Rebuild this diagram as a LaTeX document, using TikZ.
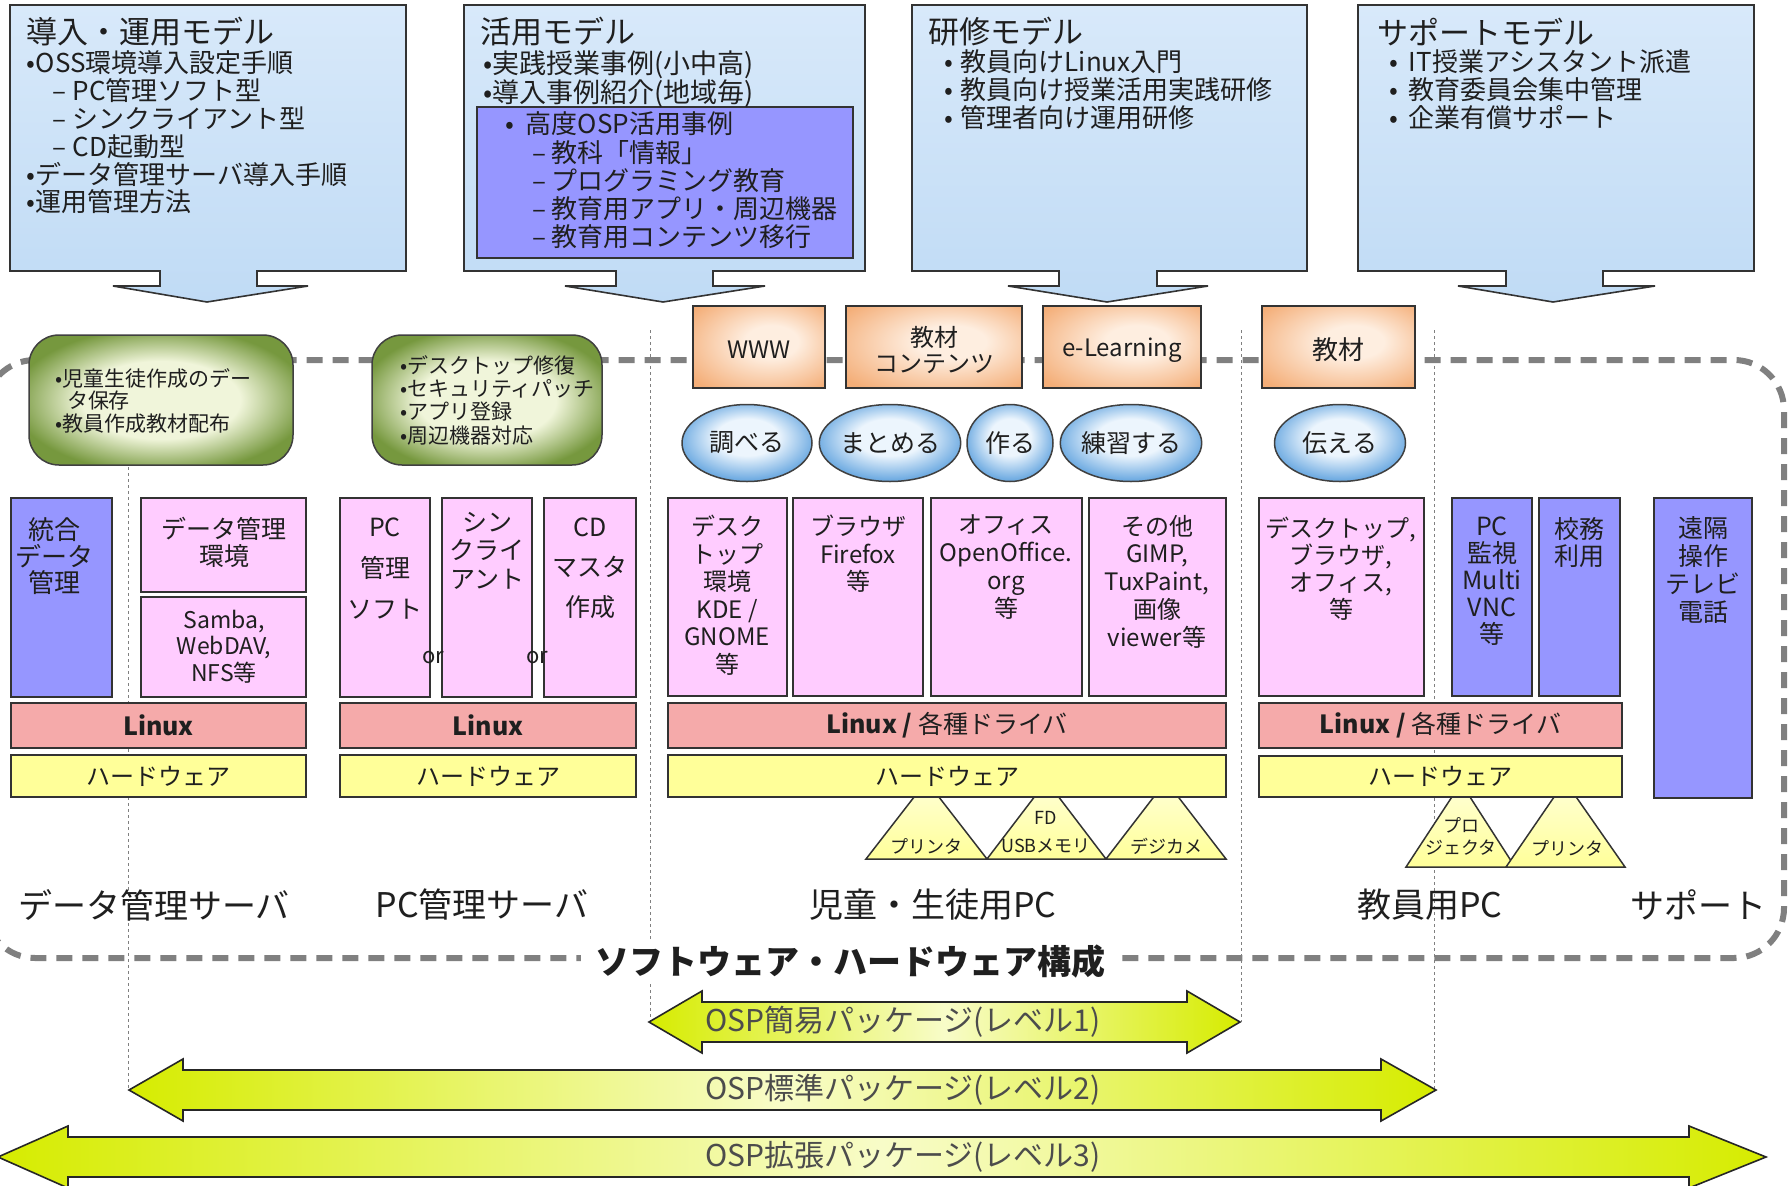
\documentclass[tikz,border=0pt]{standalone}
\usepackage{fontspec}
\setmainfont{Noto Sans CJK JP}
\usetikzlibrary{shapes.geometric}
\newcommand{\setfs}[2]{\fontsize{#1}{#2}\selectfont}
\definecolor{cloudA}{RGB}{216,233,250}
\definecolor{cloudB}{RGB}{192,219,245}
\definecolor{purp}{RGB}{150,150,255}
\definecolor{pinkb}{RGB}{255,204,255}
\definecolor{linuxc}{RGB}{245,170,170}
\definecolor{hwc}{RGB}{255,255,153}
\definecolor{hwl}{RGB}{255,255,215}
\definecolor{gD}{RGB}{118,152,62}
\definecolor{gL}{RGB}{240,245,218}
\definecolor{pA}{RGB}{254,238,224}
\definecolor{pB}{RGB}{244,174,120}
\definecolor{bubA}{RGB}{236,245,253}
\definecolor{bubB}{RGB}{112,172,226}
\definecolor{lvlD}{RGB}{214,236,0}
\definecolor{lvlL}{RGB}{248,252,200}
\definecolor{dashg}{RGB}{128,128,128}
\pgfdeclareradialshading{greenish}{\pgfpoint{0bp}{0bp}}{color(0bp)=(gL); color(15bp)=(gL); color(28bp)=(gD); color(50bp)=(gD)}
\pgfdeclareradialshading{peach}{\pgfpoint{6bp}{4bp}}{color(0bp)=(pA); color(10bp)=(pA); color(34bp)=(pB); color(50bp)=(pB)}
\pgfdeclareradialshading{bubble}{\pgfpoint{0bp}{5bp}}{color(0bp)=(bubA); color(12bp)=(bubA); color(26bp)=(bubB); color(50bp)=(bubB)}
\tikzset{
  cloudbox/.style={draw=black!80, line width=1.6, top color=cloudA, bottom color=cloudB},
  hibox/.style={draw=black!80, line width=1.6, fill=purp},
  gbox/.style={draw=black!75, line width=1.5, rounded corners=30, shade, shading=greenish},
  obox/.style={draw=black!80, line width=1.8, shade, shading=peach},
  bub/.style={ellipse, draw=black!75, line width=1.5, shade, shading=bubble, font=\setfs{25}{25}},
  pbox/.style={draw=black!80, line width=1.8, fill=pinkb},
  bbox/.style={draw=black!80, line width=1.8, fill=purp},
  lbox/.style={draw=black!80, line width=1.8, fill=linuxc},
  hbox/.style={draw=black!80, line width=1.8, fill=hwc},
  tri/.style={draw=black!80, line width=1.5, top color=hwl, bottom color=hwc},
  lvl/.style={draw=black!85, line width=1.6, left color=lvlD, right color=lvlD, middle color=lvlL},
  sepline/.style={draw=black!50, line width=1, dash pattern=on 3 off 3},
  frame/.style={draw=dashg, line width=6, dash pattern=on 16 off 10, rounded corners=50},
  bt/.style={anchor=north, align=center},
  lt/.style={anchor=north west, align=left},
  seclabel/.style={font=\setfs{34}{34}},
  pkglabel/.style={font=\setfs{30}{30}, text=black!70},
}
\newcommand{\rbox}[6]{\node[#6, anchor=north west, minimum width={#4-#2}, minimum height={#5-#3}] (#1) at (#2,#3) {};}
\newcommand{\modelbox}[7]{\draw[cloudbox] (#1,5) -- (#2,5) -- (#2,271) -- (#4,271) -- (#4,286) -- (#6,286) -- (#7,302) -- (#5,286) -- (#3,286) -- (#3,271) -- (#1,271) -- cycle;}
\newcommand{\lvlarrow}[5]{\draw[lvl] (#1,#5) -- (#2,{#5-31}) -- (#2,{#5-20}) -- (#3,{#5-20}) -- (#3,{#5-31}) -- (#4,#5) -- (#3,{#5+31}) -- (#3,{#5+20}) -- (#2,{#5+20}) -- (#2,{#5+31}) -- cycle;}
\begin{document}
\begin{tikzpicture}[x=1pt,y=-1pt, every node/.style={inner sep=0pt,outer sep=0pt,text=black!88}]
\useasboundingbox (0,0) rectangle (1789,1186);
\fill[white] (0,0) rectangle (1789,1186);
% separators
\draw[sepline] (128,335) -- (128,1088);
\draw[sepline] (650,330) -- (650,1022);
\draw[sepline] (1241,330) -- (1241,1022);
\draw[sepline] (1434,330) -- (1434,1088);
% dashed frame
\draw[frame] (-15,360) rectangle (1784,958);
% model boxes
\modelbox{10}{406}{160}{257}{113}{308}{207}
\modelbox{464}{865}{616}{713}{565}{765}{663}
\modelbox{912}{1307}{1059}{1157}{1008}{1208}{1107}
\modelbox{1358}{1754}{1506}{1603}{1458}{1655}{1553}
\rbox{hi}{477}{107}{853}{258}{hibox}
\node[anchor=west, font=\setfs{31}{31}] (m1) at (27,32) {導入・運用モデル};
\node[lt, font=\setfs{26}{27.8}] (m1b) at (27,51) {•OSS環境導入設定手順\\\hspace*{26pt}– PC管理ソフト型\\\hspace*{26pt}– シンクライアント型\\\hspace*{26pt}– CD起動型\\•データ管理サーバ導入手順\\•運用管理方法};
\node[anchor=west, font=\setfs{31}{31}] (m2) at (480,32) {活用モデル};
\node[lt, font=\setfs{27}{28}] (m2b) at (483,50.5) {•実践授業事例(小中高)\\•導入事例紹介(地域毎)};
\node[lt, font=\setfs{26}{28.25}] (m2c) at (505,112) {•\hspace{12pt}高度OSP活用事例\\\hspace*{27pt}– 教科「情報」\\\hspace*{27pt}– プログラミング教育\\\hspace*{27pt}– 教育用アプリ・周辺機器\\\hspace*{27pt}– 教育用コンテンツ移行};
\node[anchor=west, font=\setfs{31}{31}] (m3) at (928,32) {研修モデル};
\node[lt, font=\setfs{26}{28}] (m3b) at (944,50) {•\hspace{8pt}教員向けLinux入門\\•\hspace{8pt}教員向け授業活用実践研修\\•\hspace{8pt}管理者向け運用研修};
\node[anchor=west, font=\setfs{31}{31}] (m4) at (1377,32) {サポートモデル};
\node[lt, font=\setfs{26}{28}] (m4b) at (1389,50) {•\hspace{11pt}IT授業アシスタント派遣\\•\hspace{11pt}教育委員会集中管理\\•\hspace{11pt}企業有償サポート};
% green boxes
\rbox{g1}{29}{335}{293}{465}{gbox}
\rbox{g2}{372}{335}{602}{465}{gbox}
\node[lt, font=\setfs{21}{22.5}] (g1t) at (55,368.5) {•児童生徒作成のデー\\\hspace*{12pt}タ保存\\•教員作成教材配布};
\node[lt, font=\setfs{21}{23.3}] (g2t) at (400,355.5) {•デスクトップ修復\\•セキュリティパッチ\\•アプリ登録\\•周辺機器対応};
% orange boxes
\rbox{www}{693}{306}{825}{388}{obox}
\rbox{kz}{846}{306}{1022}{388}{obox}
\rbox{el}{1043}{306}{1201}{388}{obox}
\rbox{kz2}{1262}{306}{1415}{388}{obox}
\node[font=\setfs{24}{24}] (wwwt) at (759,350) {WWW};
\node[align=center, font=\setfs{24}{26}] (kzt) at (934,350) {教材\\コンテンツ};
\node[font=\setfs{24}{24}] (elt) at (1122,350) {e-Learning};
\node[font=\setfs{26}{26}] (kz2t) at (1338,350) {教材};
% ellipses
\node[bub, minimum width=130, minimum height=77] (e1) at (747,443) {調べる};
\node[bub, minimum width=131, minimum height=77] (e2) at (890,443) {まとめる};
\node[bub, minimum width=86, minimum height=77] (e3) at (1010,443) {作る};
\node[bub, minimum width=134, minimum height=77] (e4) at (1131,443) {練習する};
\node[bub, minimum width=131, minimum height=77] (e5) at (1340,443) {伝える};
% data server
\rbox{togo}{11}{498}{112}{697}{bbox}
\rbox{dk}{141}{498}{306}{592}{pbox}
\rbox{samba}{141}{597}{306}{697}{pbox}
\rbox{lx1}{11}{703}{306}{748}{lbox}
\rbox{hw1}{11}{755}{306}{797}{hbox}
\node[bt, font=\setfs{26}{26.5}] (togot) at (55,518) {統合\\データ\\管理};
\node[bt, font=\setfs{25}{27}] (dkt) at (224,517) {データ管理\\環境};
\node[bt, font=\setfs{23}{26.5}] (sambat) at (224,610) {Samba,\\WebDAV,\\NFS等};
% pc server
\rbox{pcs}{340}{498}{430}{697}{pbox}
\rbox{thin}{442}{498}{532}{697}{pbox}
\rbox{cd}{544}{498}{636}{697}{pbox}
\rbox{lx2}{340}{703}{636}{748}{lbox}
\rbox{hw2}{340}{755}{636}{797}{hbox}
\node[bt, font=\setfs{25}{41}] (pcst) at (385,518) {PC\\管理\\ソフト};
\node[bt, font=\setfs{25}{28.5}] (thint) at (487,512) {シン\\クライ\\アント};
\node[bt, font=\setfs{25}{40}] (cdt) at (590,518) {CD\\マスタ\\作成};
\node[font=\setfs{22}{22}] (or1) at (433,658) {or};
\node[font=\setfs{22}{22}] (or2) at (537,658) {or};
% student pc
\draw[tri] (866,859) -- (926.5,781) -- (987,859) -- cycle;
\draw[tri] (987,859) -- (1046.5,781) -- (1106,859) -- cycle;
\draw[tri] (1106,859) -- (1166,781) -- (1226,859) -- cycle;
\rbox{desk}{668}{498}{787}{696}{pbox}
\rbox{brow}{793}{498}{923}{696}{pbox}
\rbox{off}{931}{498}{1082}{696}{pbox}
\rbox{oth}{1089}{498}{1226}{696}{pbox}
\rbox{lx3}{668}{703}{1226}{748}{lbox}
\rbox{hw3}{668}{755}{1226}{797}{hbox}
\node[bt, font=\setfs{24}{27.6}] (deskt) at (727,515) {デスク\\トップ\\環境\\KDE /\\GNOME\\等};
\node[bt, font=\setfs{24}{27.5}] (browt) at (858,515) {ブラウザ\\Firefox\\等};
\node[bt, font=\setfs{24}{28}] (offt) at (1006,515) {オフィス\\OpenOffice.\\org\\等};
\node[bt, font=\setfs{24}{27.8}] (otht) at (1157,515) {その他\\GIMP,\\TuxPaint,\\画像\\viewer等};
\node[font=\setfs{18}{18}] (tr1) at (926,846) {プリンタ};
\node[font=\setfs{18}{18}] (tr2a) at (1046,818) {FD};
\node[font=\setfs{18}{18}] (tr2b) at (1046,846) {USBメモリ};
\node[font=\setfs{18}{18}] (tr3) at (1166,846) {デジカメ};
% teacher pc
\draw[tri] (1406,867) -- (1461,783) -- (1515,867) -- cycle;
\draw[tri] (1506,867) -- (1565,781) -- (1625,867) -- cycle;
\rbox{td}{1259}{498}{1424}{696}{pbox}
\rbox{kan}{1452}{498}{1532}{696}{bbox}
\rbox{komu}{1539}{498}{1620}{696}{bbox}
\rbox{enk}{1654}{498}{1752}{798}{bbox}
\rbox{lx4}{1259}{703}{1622}{748}{lbox}
\rbox{hw4}{1259}{756}{1622}{797}{hbox}
\node[bt, font=\setfs{24}{27}] (tdt) at (1341,517) {デスクトップ,\\ブラウザ,\\オフィス,\\等};
\node[bt, font=\setfs{25}{27}] (kant) at (1492,517) {PC\\監視\\Multi\\VNC\\等};
\node[bt, font=\setfs{25}{27}] (komut) at (1579,517) {校務\\利用};
\node[bt, font=\setfs{25}{27.7}] (enkt) at (1703,517) {遠隔\\操作\\テレビ\\電話};
\node[font=\setfs{18}{18}] (tr4a) at (1461,825) {プロ};
\node[font=\setfs{18}{18}] (tr4b) at (1461,848) {ジェクタ};
\node[font=\setfs{18}{18}] (tr5) at (1567,848) {プリンタ};
% bar labels
\node[font=\setfs{25}{25}\bfseries] (lx1t) at (lx1) {Linux};
\node[font=\setfs{25}{25}\bfseries] (lx2t) at (lx2) {Linux};
\node[font=\setfs{25}{25}] (lx3t) at (lx3) {\textbf{Linux /} 各種ドライバ};
\node[font=\setfs{25}{25}] (lx4t) at (lx4) {\textbf{Linux /} 各種ドライバ};
\node[font=\setfs{24}{24}] (hw1t) at (hw1) {ハードウェア};
\node[font=\setfs{24}{24}] (hw2t) at (hw2) {ハードウェア};
\node[font=\setfs{24}{24}] (hw3t) at (hw3) {ハードウェア};
\node[font=\setfs{24}{24}] (hw4t) at (hw4) {ハードウェア};
% section labels
\node[seclabel] (s1) at (154,905) {データ管理サーバ};
\node[seclabel] (s2) at (482,905) {PC管理サーバ};
\node[seclabel] (s3) at (933,905) {児童・生徒用PC};
\node[seclabel] (s4) at (1430,905) {教員用PC};
\node[seclabel] (s5) at (1698,905) {サポート};
\node[fill=white, inner xsep=14, inner ysep=4, font=\setfs{34}{34}\bfseries] (swhw) at (850,962) {ソフトウェア・ハードウェア構成};
% package arrows
\lvlarrow{649}{702}{1187}{1240}{1022}
\lvlarrow{129}{183}{1381}{1436}{1090}
\lvlarrow{-2}{68}{1689}{1766}{1157}
\node[pkglabel] (p1) at (903,1022) {OSP簡易パッケージ(レベル1)};
\node[pkglabel] (p2) at (903,1090) {OSP標準パッケージ(レベル2)};
\node[pkglabel] (p3) at (903,1157) {OSP拡張パッケージ(レベル3)};
\end{tikzpicture}
\end{document}
